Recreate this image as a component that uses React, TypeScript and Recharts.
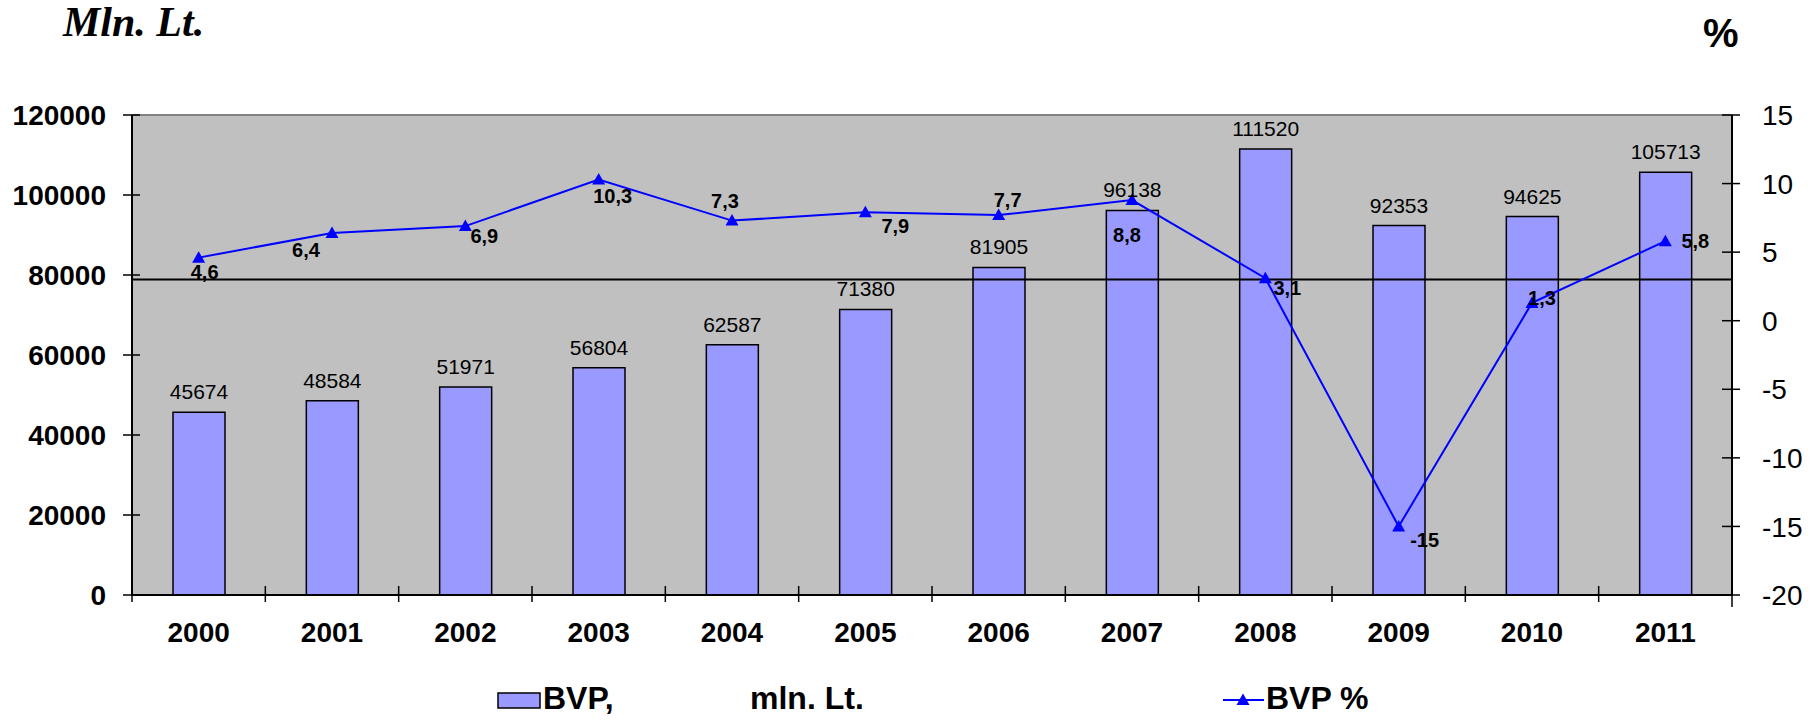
import React from "react";
import {
  ComposedChart,
  Bar,
  Line,
  XAxis,
  YAxis,
  CartesianGrid,
  ReferenceLine,
  LabelList,
  Legend,
} from "recharts";

// GDP (BVP) of Lithuania, mln. Lt, and its yearly change in %
const YEARS = ["2000", "2001", "2002", "2003", "2004", "2005", "2006", "2007", "2008", "2009", "2010", "2011"];
const BVP_MLN = [45674, 48584, 51971, 56804, 62587, 71380, 81905, 96138, 111520, 92353, 94625, 105713];
const BVP_GROWTH = [4.6, 6.4, 6.9, 10.3, 7.3, 7.9, 7.7, 8.8, 3.1, -15, 1.3, 5.8];

const LEFT_TICKS = [0, 20000, 40000, 60000, 80000, 100000, 120000];
const RIGHT_TICKS = [-20, -15, -10, -5, 0, 5, 10, 15];
const REFERENCE_LEVEL = 3;

// where each growth label sits relative to its marker (hand placed in the original)
const GROWTH_LABEL_OFFSETS: [number, number][] = [
  [6, 14], [-26, 17], [19, 10], [14, 16], [-7, -20], [30, 13],
  [9, -15], [-5, 35], [22, 10], [26, 13], [10, -5], [30, 0],
];

const W = 1818;
const H = 721;
const LEFT_W = 132;
const RIGHT_W = 86;
const BAND = (W - LEFT_W - RIGHT_W) / YEARS.length;
const SANS = "'Liberation Sans', Arial, sans-serif";

const data = YEARS.map((year, i) => ({ year, bvp: BVP_MLN[i], growth: BVP_GROWTH[i] }));

if (typeof document !== "undefined") document.body.style.margin = "0";

function LeftTick(props: any) {
  const { x, y, payload } = props;
  const axisX = x + 26;
  return (
    <g>
      <line x1={axisX - 9} x2={axisX + 8} y1={y} y2={y} stroke="#000" strokeWidth={1.5} />
      <text x={x} y={y} dy="0.36em" textAnchor="end" fontFamily={SANS} fontSize={28} fontWeight="bold" fill="#000">
        {payload.value}
      </text>
    </g>
  );
}

function RightTick(props: any) {
  const { x, y, payload } = props;
  const axisX = x - 30;
  return (
    <g>
      <line x1={axisX - 10} x2={axisX + 8} y1={y} y2={y} stroke="#000" strokeWidth={1.5} />
      <text x={x} y={y} dy="0.36em" textAnchor="start" fontFamily={SANS} fontSize={28} fill="#000">
        {payload.value}
      </text>
    </g>
  );
}

function YearTick(props: any) {
  const { x, y, payload, index } = props;
  const axisY = y - 18;
  const left = x - BAND / 2;
  return (
    <g>
      <line x1={left} x2={left} y1={axisY - 9} y2={axisY + 7} stroke="#000" strokeWidth={1.5} />
      {index === YEARS.length - 1 && (
        <line x1={x + BAND / 2} x2={x + BAND / 2} y1={axisY - 9} y2={axisY + 12} stroke="#000" strokeWidth={1.5} />
      )}
      <text x={x} y={axisY + 47} textAnchor="middle" fontFamily={SANS} fontSize={28} fontWeight="bold" fill="#000">
        {payload.value}
      </text>
    </g>
  );
}

function TriangleDot(props: any) {
  const { cx, cy } = props;
  if (cx == null || cy == null) return null;
  return <path d={`M${cx},${cy - 6.5} L${cx + 6.5},${cy + 5} L${cx - 6.5},${cy + 5} Z`} fill="#0000FF" />;
}

function GrowthLabel(props: any) {
  const { value } = props;
  const px = props.viewBox?.x ?? props.x;
  const py = props.viewBox?.y ?? props.y;
  const idx = typeof props.index === "number" ? props.index : BVP_GROWTH.indexOf(value);
  const [dx, dy] = GROWTH_LABEL_OFFSETS[idx] ?? [0, 14];
  return (
    <text x={px + dx} y={py + dy} dy="0.36em" textAnchor="middle" fontFamily={SANS} fontSize={20} fontWeight="bold" fill="#000">
      {String(value).replace(".", ",")}
    </text>
  );
}

function ChartLegend() {
  return (
    <svg width={W} height={66} style={{ display: "block" }}>
      <g fontFamily={SANS} fontWeight="bold" fontSize={32} fill="#000">
        <rect x={498} y={38} width={42} height={15} fill="#9999FF" stroke="#000" strokeWidth={1.5} />
        <text x={543} y={54}>BVP,</text>
        <text x={750} y={54}>mln. Lt.</text>
        <line x1={1223} x2={1264} y1={45} y2={45} stroke="#0000FF" strokeWidth={2} />
        <path d="M1243,38.5 L1249.5,50 L1236.5,50 Z" fill="#0000FF" />
        <text x={1266} y={54}>BVP %</text>
      </g>
    </svg>
  );
}

export default function App() {
  return (
    <div style={{ position: "relative", width: W, height: H, background: "#fff" }}>
      <ComposedChart width={W} height={H} data={data} margin={{ top: 115, right: 0, bottom: 0, left: 0 }}>
        <CartesianGrid yAxisId="left" fill="#C0C0C0" horizontal={false} vertical={false} stroke="none" />
        <XAxis
          dataKey="year"
          height={60}
          interval={0}
          axisLine={{ stroke: "#000", strokeWidth: 2 }}
          tickLine={false}
          tickSize={8}
          tickMargin={10}
          tick={<YearTick />}
        />
        <YAxis
          yAxisId="left"
          width={LEFT_W}
          domain={[0, 120000]}
          ticks={LEFT_TICKS}
          interval={0}
          axisLine={{ stroke: "#000", strokeWidth: 2 }}
          tickLine={false}
          tickSize={9}
          tickMargin={17}
          tick={<LeftTick />}
        />
        <YAxis
          yAxisId="right"
          orientation="right"
          width={RIGHT_W}
          domain={[-20, 15]}
          ticks={RIGHT_TICKS}
          interval={0}
          axisLine={{ stroke: "#000", strokeWidth: 2 }}
          tickLine={false}
          tickSize={8}
          tickMargin={22}
          tick={<RightTick />}
        />
        <ReferenceLine yAxisId="right" y={15} stroke="#808080" strokeWidth={2} />
        <Bar
          yAxisId="left"
          dataKey="bvp"
          fill="#9999FF"
          stroke="#000"
          strokeWidth={1.5}
          barSize={52}
          isAnimationActive={false}
        >
          <LabelList dataKey="bvp" position="top" offset={13} fontFamily={SANS} fontSize={21} fill="#000" />
        </Bar>
        <ReferenceLine yAxisId="right" y={REFERENCE_LEVEL} stroke="#000" strokeWidth={2} />
        <Line
          yAxisId="right"
          dataKey="growth"
          stroke="#0000FF"
          strokeWidth={2}
          dot={<TriangleDot />}
          activeDot={false}
          isAnimationActive={false}
        >
          <LabelList dataKey="growth" content={<GrowthLabel />} />
        </Line>
        <Legend
          verticalAlign="bottom"
          height={66}
          wrapperStyle={{ left: 0, bottom: 0, width: W }}
          content={<ChartLegend />}
        />
      </ComposedChart>
      <svg width={W} height={H} style={{ position: "absolute", left: 0, top: 0, pointerEvents: "none" }}>
        <text x={63} y={36} fontFamily="'Liberation Serif', 'Times New Roman', serif" fontSize={42} fontWeight="bold" fontStyle="italic" fill="#000">
          Mln. Lt.
        </text>
        <text x={1703} y={47} fontFamily={SANS} fontSize={40} fontWeight="bold" fill="#000">
          %
        </text>
      </svg>
    </div>
  );
}
